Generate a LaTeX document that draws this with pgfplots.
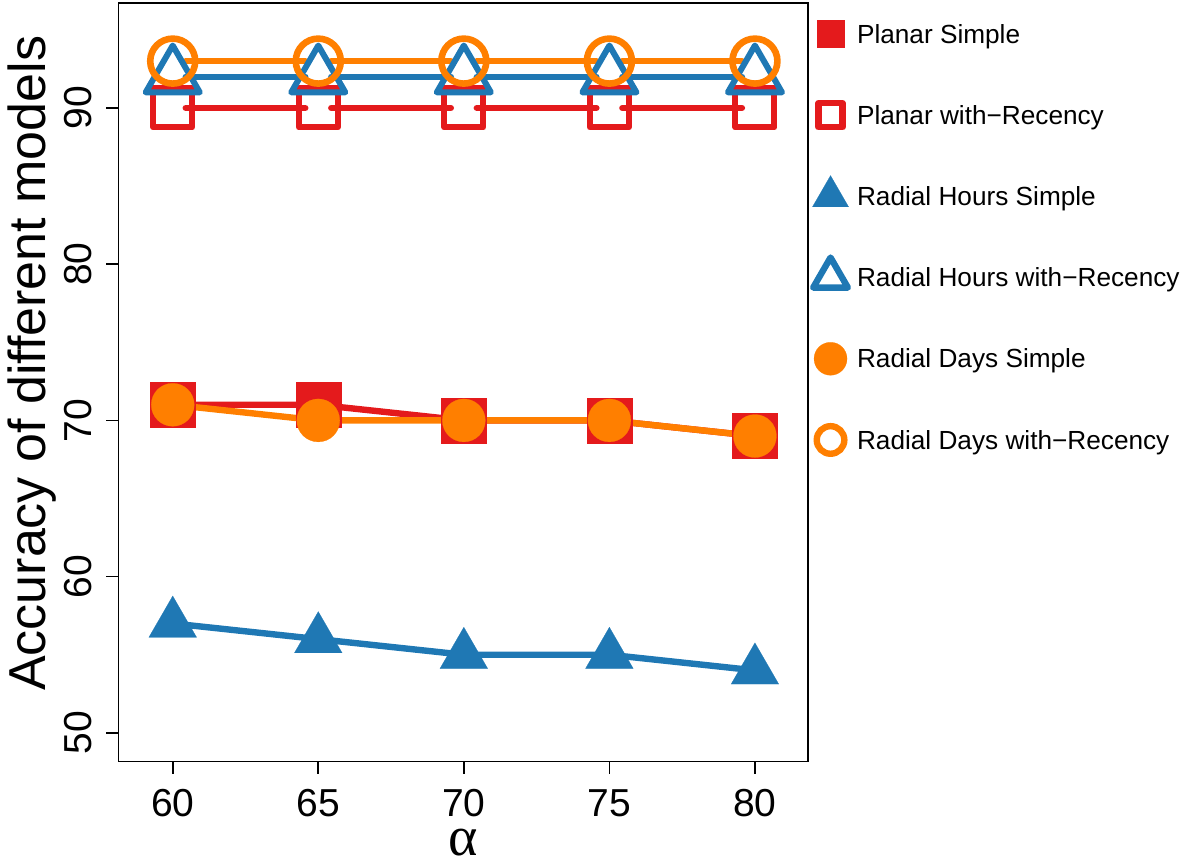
\documentclass[border=0pt]{standalone}
\usepackage{fontspec}
\setmainfont{Liberation Sans}
\newfontfamily\seriffont{Liberation Serif}
\usepackage{pgfplots}
\pgfplotsset{compat=1.18}
\definecolor{cred}{RGB}{228,26,28}
\definecolor{cblue}{RGB}{31,120,180}
\definecolor{corange}{RGB}{255,127,0}
\begin{document}
\begin{tikzpicture}
\begin{axis}[
  at={(0pt,0pt)}, anchor=south west,
  scale only axis, width=344.8pt, height=379.3pt,
  xmin=58.13, xmax=81.82, ymin=48.16, ymax=96.72,
  xtick={60,65,70,75,80}, ytick={50,60,70,80,90},
  xtick pos=bottom, ytick pos=left,
  tick align=outside, major tick length=6pt,
  tick style={line width=0.8pt, black},
  axis line style={line width=0.8pt},
  /pgf/number format/assume math mode=true,
  tick label style={font=\fontsize{19.5}{23}\selectfont},
  xticklabel style={anchor=north, inner sep=0pt, yshift=-7.65pt},
  yticklabel style={xshift=-7.15pt, rotate=90, anchor=south, inner sep=0pt},
  xlabel={{\seriffont α}},
  xlabel style={at={(axis description cs:0.5,-0.1243)}, anchor=base, font=\fontsize{28}{32}\selectfont},
  ylabel={Accuracy of different models},
  ylabel style={at={(axis description cs:-0.1049,0.525)}, anchor=base, font=\fontsize{26}{30}\selectfont},
  legend image code/.code={\draw[#1] plot coordinates {(0pt,0pt)};},
  legend cell align=left,
  legend style={at={(axis description cs:1.0067,1.0127)}, anchor=north west,
    draw=none, fill=none, inner sep=0pt, outer sep=0pt, column sep=4.25pt, row sep=0pt,
    font=\fontsize{13.1}{15}\selectfont,
    nodes={inner sep=0pt, text height=24.9pt, text depth=15.7pt}},
]
% Planar Simple
\addplot[cred, line width=3.2pt, mark=square*, mark size=11.25pt, mark options={line width=0.1pt}, forget plot]
  coordinates {(60,71)(65,71)(70,70)(75,70)(80,69)};
% Planar with-Recency
\addplot[cred, line width=3.2pt, line cap=round, shorten <=6.5pt, shorten >=6.5pt, forget plot] coordinates {(60,90)(65,90)};
\addplot[cred, line width=3.2pt, line cap=round, shorten <=6.5pt, shorten >=6.5pt, forget plot] coordinates {(65,90)(70,90)};
\addplot[cred, line width=3.2pt, line cap=round, shorten <=6.5pt, shorten >=6.5pt, forget plot] coordinates {(70,90)(75,90)};
\addplot[cred, line width=3.2pt, line cap=round, shorten <=6.5pt, shorten >=6.5pt, forget plot] coordinates {(75,90)(80,90)};
\addplot[cred, only marks, mark=square, mark size=9.75pt, mark options={line width=3pt, line join=round}, forget plot]
  coordinates {(60,90)(65,90)(70,90)(75,90)(80,90)};
% Radial Hours Simple
\addplot[cblue, line width=3.2pt, mark=triangle*, mark size=13.77pt, mark options={line width=0.1pt}, forget plot]
  coordinates {(60,57)(65,56)(70,55)(75,55)(80,54)};
% Radial Hours with-Recency
\addplot[cblue, line width=3.2pt, line cap=round, shorten <=6.5pt, shorten >=6.5pt, forget plot] coordinates {(60,92)(65,92)};
\addplot[cblue, line width=3.2pt, line cap=round, shorten <=6.5pt, shorten >=6.5pt, forget plot] coordinates {(65,92)(70,92)};
\addplot[cblue, line width=3.2pt, line cap=round, shorten <=6.5pt, shorten >=6.5pt, forget plot] coordinates {(70,92)(75,92)};
\addplot[cblue, line width=3.2pt, line cap=round, shorten <=6.5pt, shorten >=6.5pt, forget plot] coordinates {(75,92)(80,92)};
\addplot[cblue, only marks, mark=triangle, mark size=15.6pt, mark options={line width=3pt, line join=round}, forget plot]
  coordinates {(60,92)(65,92)(70,92)(75,92)(80,92)};
% Radial Days Simple
\addplot[corange, line width=3.2pt, mark=*, mark size=10.75pt, mark options={line width=0.1pt}, forget plot]
  coordinates {(60,71)(65,70)(70,70)(75,70)(80,69)};
% Radial Days with-Recency
\addplot[corange, line width=3.2pt, line cap=round, shorten <=6.5pt, shorten >=6.5pt, forget plot] coordinates {(60,93)(65,93)};
\addplot[corange, line width=3.2pt, line cap=round, shorten <=6.5pt, shorten >=6.5pt, forget plot] coordinates {(65,93)(70,93)};
\addplot[corange, line width=3.2pt, line cap=round, shorten <=6.5pt, shorten >=6.5pt, forget plot] coordinates {(70,93)(75,93)};
\addplot[corange, line width=3.2pt, line cap=round, shorten <=6.5pt, shorten >=6.5pt, forget plot] coordinates {(75,93)(80,93)};
\addplot[corange, only marks, mark=o, mark size=11.25pt, mark options={line width=3.3pt}, forget plot]
  coordinates {(60,93)(65,93)(70,93)(75,93)(80,93)};
% legend
\addlegendimage{cred, mark=square*, mark size=6.75pt, mark options={line width=0.1pt}}
\addlegendentry{Planar Simple}
\addlegendimage{cred, mark=square, mark size=6pt, mark options={line width=3.2pt, line join=round}}
\addlegendentry{Planar with\textminus Recency}
\addlegendimage{cblue, mark=triangle*, mark size=10.4pt, mark options={line width=0.1pt}}
\addlegendentry{Radial Hours Simple}
\addlegendimage{cblue, mark=triangle, mark size=10pt, mark options={line width=3.2pt, line join=round}}
\addlegendentry{Radial Hours with\textminus Recency}
\addlegendimage{corange, mark=*, mark size=8.25pt, mark options={line width=0.1pt}}
\addlegendentry{Radial Days Simple}
\addlegendimage{corange, mark=o, mark size=6.9pt, mark options={line width=3.2pt}}
\addlegendentry{Radial Days with\textminus Recency}
\end{axis}
\pgfresetboundingbox
\path (-59.15pt,-52.2pt) rectangle (531.35pt,380.8pt);
\end{tikzpicture}
\end{document}
